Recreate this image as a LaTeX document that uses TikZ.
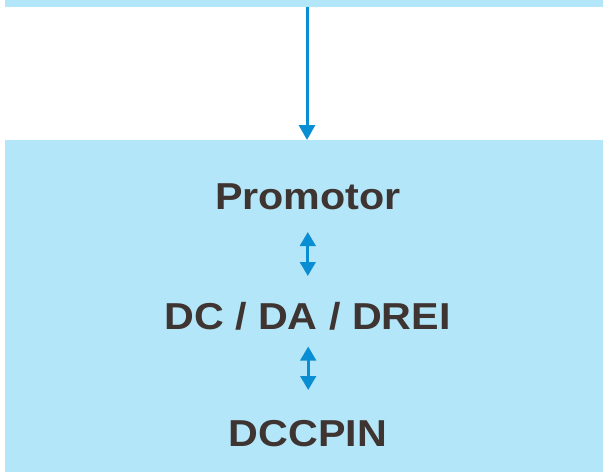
\documentclass[tikz,border=0pt]{standalone}
\usepackage{fontspec}
\setmainfont{Liberation Sans}[FakeStretch=1.1]
\usetikzlibrary{arrows.meta}
\definecolor{panel}{HTML}{B3E6F8}
\definecolor{flow}{HTML}{0A8ED3}
\definecolor{ink}{HTML}{3E3431}

\begin{document}
\begin{tikzpicture}[x=1pt, y=-1pt,
  panelbox/.style={fill=panel, draw=none, inner sep=0pt, outer sep=0pt, anchor=north west},
  caption/.style={text=ink, font=\bfseries\fontsize{37.5}{40}\selectfont, anchor=base, inner sep=0pt},
  flowline/.style={draw=flow, line width=3pt, -{Triangle[width=16pt, length=15pt]}},
  twoway/.style={draw=flow, line width=3pt, {Triangle[width=15.5pt, length=14pt]}-{Triangle[width=15.5pt, length=14pt]}}]
  \useasboundingbox (0,0) rectangle (603,472);

  % upper strip and lower panel
  \node[panelbox, minimum width=598.5pt, minimum height=7pt] (band) at (4.5,0) {};
  \node[panelbox, minimum width=598.5pt, minimum height=332pt] (box) at (4.5,140) {};

  % labels inside the panel
  \node[caption] (promotor) at (308,209.3) {Promotor};
  \node[caption] (dcda) at (307.5,329) {DC / DA / DREI};
  \node[caption] (dccpin) at (308,446) {DCCPIN};

  % connector from the strip into the panel
  \coordinate (src) at (307,7);
  \coordinate (dst) at (307,140);
  \draw[flowline] (src) -- (dst);

  % two-way arrows between the labels
  \coordinate (u1) at (307.8,232);
  \coordinate (d1) at (307.8,276);
  \coordinate (u2) at (308.2,346.5);
  \coordinate (d2) at (308.2,390);
  \draw[twoway] (u1) -- (d1);
  \draw[twoway] (u2) -- (d2);
\end{tikzpicture}
\end{document}
